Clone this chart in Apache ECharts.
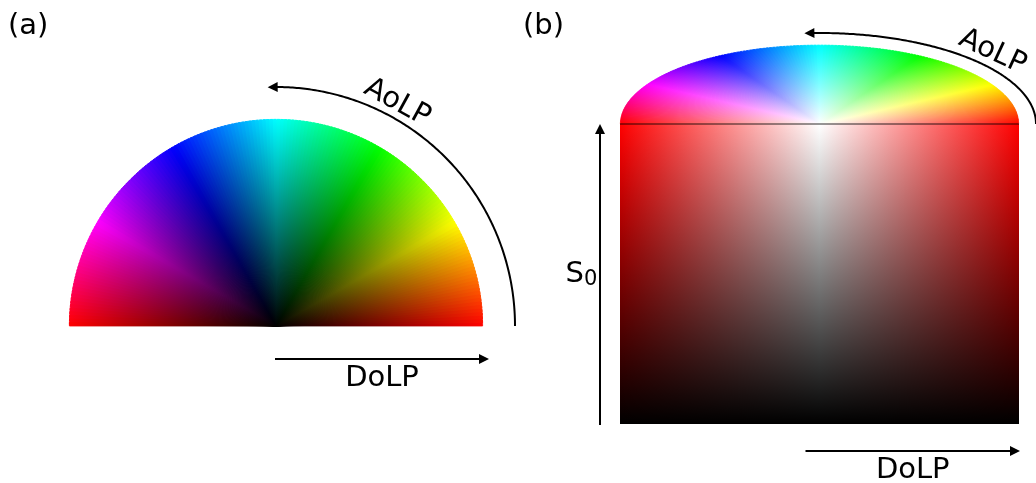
<!DOCTYPE html>
<html><head><meta charset="utf-8">
<script src="https://cdn.jsdelivr.net/npm/echarts@6/dist/echarts.min.js"></script>
<style>html,body{margin:0;padding:0;background:#fff}#chart{width:1036px;height:483px}</style>
</head><body><div id="chart"></div>
<script>
// ---- data ----
const AOLP_STOPS = [0, 30, 60, 90, 120, 150, 180];          // AoLP (deg)
const HUE_COLORS = ['#ff0000', '#ffff00', '#00ff00', '#00ffff', '#0000ff', '#ff00ff', '#ff0000'];
const AOLP_STEP = 1;                                          // wedge width (deg)
const DOLP_RANGE = [0, 1];
const DOLP_SIGNED = [-1, 1];                                  // panel (b) horizontal
const S0_RANGE = [0, 1];
const S0_ROW_COLORS = ['#ff0000', '#ffffff', '#ff0000'];      // top row of panel (b) rect (DoLP -1,0,1)
const PANEL_LABELS = ['(a)', '(b)'];
const AXIS_NAMES = { aolp: 'AoLP', dolp: 'DoLP', s0: 'S', s0sub: '0' };

const wedges = [];
for (let a = AOLP_STOPS[0]; a < AOLP_STOPS[AOLP_STOPS.length - 1]; a += AOLP_STEP) {
  wedges.push([DOLP_RANGE[1], a + AOLP_STEP / 2, a, a + AOLP_STEP]);
}

// ---- helpers ----
const FONT = '"DejaVu Sans", Verdana, sans-serif';
const D2R = Math.PI / 180;
const HEAD_LEN = 10, HEAD_HALF = 5, LW = 2;

function arrowEls(pts, tip) {
  const last = pts[pts.length - 1];
  let ux = tip[0] - last[0], uy = tip[1] - last[1];
  const n = Math.hypot(ux, uy) || 1; ux /= n; uy /= n;
  const bx = tip[0] - ux * HEAD_LEN, by = tip[1] - uy * HEAD_LEN;
  const px = -uy * HEAD_HALF, py = ux * HEAD_HALF;
  return [
    { type: 'polyline', shape: { points: pts.concat([[bx + ux * 2, by + uy * 2]]) }, style: { stroke: '#000', lineWidth: LW, fill: null } },
    { type: 'polygon', shape: { points: [tip, [bx + px, by + py], [bx - px, by - py]] }, style: { fill: '#000' } }
  ];
}
function ellPt(cx, cy, a, b, deg) { return [cx + a * Math.cos(deg * D2R), cy - b * Math.sin(deg * D2R)]; }
function arcArrow(cx, cy, a, b, tipDeg) {
  const endDeg = tipDeg - (HEAD_LEN / Math.max(a, b)) / D2R * 1.0;
  const pts = [];
  for (let d = 0; d < endDeg; d += 0.5) pts.push(ellPt(cx, cy, a, b, d));
  pts.push(ellPt(cx, cy, a, b, endDeg));
  return arrowEls(pts, ellPt(cx, cy, a, b, tipDeg));
}
function straightArrow(x0, y0, x1, y1) {
  const L = Math.hypot(x1 - x0, y1 - y0);
  const ux = (x1 - x0) / L, uy = (y1 - y0) / L;
  return arrowEls([[x0, y0], [x1 - ux * HEAD_LEN, y1 - uy * HEAD_LEN]], [x1, y1]);
}
function txt(text, x, y, size, opts) {
  opts = opts || {};
  return { type: 'text', x: x, y: y, rotation: opts.rotation || 0,
    style: { text: text, fill: '#000', font: size + 'px ' + FONT, align: opts.align || 'center', verticalAlign: opts.va || 'middle' } };
}

function wheelRenderer(centerColor, squash) {
  return function (params, api) {
    const cs = params.coordSys;
    const a0 = api.value(2), a1 = Math.min(AOLP_STOPS[AOLP_STOPS.length - 1], api.value(3) + 0.6);
    const R = cs.r;
    const grad = { type: 'radial', x: cs.cx, y: cs.cy, r: R, global: true,
      colorStops: [{ offset: 0, color: centerColor }, { offset: 1, color: api.visual('color') }] };
    return {
      type: 'sector',
      originX: cs.cx, originY: cs.cy, scaleY: squash,
      shape: { cx: cs.cx, cy: cs.cy, r0: 0, r: R - 0.4, startAngle: -a1 * D2R, endAngle: -a0 * D2R, clockwise: true },
      style: { fill: grad, stroke: grad, lineWidth: 0.8 }
    };
  };
}

function rectRender(params, api) {
  const tl = api.coord([DOLP_SIGNED[0], S0_RANGE[1]]);
  const br = api.coord([DOLP_SIGNED[1], S0_RANGE[0]]);
  const shape = { x: tl[0], y: tl[1], width: br[0] - tl[0], height: br[1] - tl[1] };
  return { type: 'group', children: [
    { type: 'rect', shape: shape, style: { fill: { type: 'linear', x: 0, y: 0, x2: 1, y2: 0,
      colorStops: S0_ROW_COLORS.map((c, i) => ({ offset: i / (S0_ROW_COLORS.length - 1), color: c })) } } },
    { type: 'rect', shape: shape, style: { fill: { type: 'linear', x: 0, y: 0, x2: 0, y2: 1,
      colorStops: [{ offset: 0, color: 'rgba(0,0,0,0)' }, { offset: 1, color: 'rgba(0,0,0,1)' }] } } }
  ] };
}

function decoA(params, api) {
  const cs = params.coordSys, cx = cs.cx, cy = cs.cy, R = cs.r;
  const rArc = R + 32;
  let ch = [];
  ch = ch.concat(arcArrow(cx, cy, rArc, rArc, 92));
  const tDeg = 61.5, tR = R + 47;
  const tp = ellPt(cx, cy, tR, tR, tDeg);
  ch.push(txt(AXIS_NAMES.aolp, tp[0], tp[1], 29, { rotation: (tDeg - 90) * D2R }));
  const ay = cy + 33;
  const o = api.coord([0, 0]);
  ch = ch.concat(straightArrow(o[0] - 1, ay, cx + R + 6, ay));
  ch.push(txt(AXIS_NAMES.dolp, (o[0] + cx + R + 5) / 2, ay + 19, 29));
  return { type: 'group', children: ch };
}

function decoB(params, api) {
  const tl = api.coord([DOLP_SIGNED[0], S0_RANGE[1]]);
  const br = api.coord([DOLP_SIGNED[1], S0_RANGE[0]]);
  const c = api.coord([0, S0_RANGE[1]]);
  const halfW = (br[0] - tl[0]) / 2;
  let ch = [];
  // separator
  ch.push({ type: 'line', shape: { x1: tl[0], y1: tl[1], x2: br[0], y2: tl[1] }, style: { stroke: 'rgba(0,0,0,0.55)', lineWidth: 1.5 } });
  // AoLP elliptical arc
  ch = ch.concat(arcArrow(c[0], c[1], halfW + 17, 91, 94));
  ch.push(txt(AXIS_NAMES.aolp, c[0] + 173, c[1] - 72, 29, { rotation: -25 * D2R }));
  // S0 arrow
  const sx = tl[0] - 20;
  ch = ch.concat(straightArrow(sx, br[1] + 1, sx, tl[1]));
  const my = (tl[1] + br[1]) / 2;
  ch.push(txt(AXIS_NAMES.s0, sx - 16, my, 29, { align: 'right' }));
  ch.push(txt(AXIS_NAMES.s0sub, sx - 16, my + 6, 21, { align: 'left' }));
  // DoLP arrow
  const dy = br[1] + 27;
  ch = ch.concat(straightArrow(c[0] - 14, dy, br[0] + 1, dy));
  ch.push(txt(AXIS_NAMES.dolp, (c[0] - 14 + br[0] + 1) / 2, dy + 19, 29));
  return { type: 'group', children: ch };
}

const chart = echarts.init(document.getElementById('chart'), null, { renderer: 'canvas' });
const hiddenAngle = (i) => ({ polarIndex: i, type: 'value', min: 0, max: 360, startAngle: 0, clockwise: false, show: false });
const hiddenRadius = (i) => ({ polarIndex: i, type: 'value', min: DOLP_RANGE[0], max: DOLP_RANGE[1], show: false });

chart.setOption({
  animation: false,
  backgroundColor: '#fff',
  polar: [
    { center: [276, 326], radius: 207 },
    { center: [819.5, 124], radius: 199.5 }
  ],
  angleAxis: [hiddenAngle(0), hiddenAngle(1)],
  radiusAxis: [hiddenRadius(0), hiddenRadius(1)],
  grid: { left: 620, right: 17, top: 124, bottom: 59 },
  xAxis: { type: 'value', min: DOLP_SIGNED[0], max: DOLP_SIGNED[1], show: false },
  yAxis: { type: 'value', min: S0_RANGE[0], max: S0_RANGE[1], show: false },
  visualMap: {
    type: 'continuous', show: false, seriesIndex: [0, 1], dimension: 1,
    min: AOLP_STOPS[0], max: AOLP_STOPS[AOLP_STOPS.length - 1],
    inRange: { color: HUE_COLORS }
  },
  graphic: [
    txt(PANEL_LABELS[0], 8, 26, 29, { align: 'left' }),
    txt(PANEL_LABELS[1], 523, 26, 29, { align: 'left' })
  ],
  series: [
    { type: 'custom', coordinateSystem: 'polar', polarIndex: 0, data: wedges, renderItem: wheelRenderer('#000000', 1), silent: true },
    { type: 'custom', coordinateSystem: 'polar', polarIndex: 1, data: wedges, renderItem: wheelRenderer('#ffffff', 79 / 199.5), silent: true },
    { type: 'custom', coordinateSystem: 'cartesian2d', data: [[0, 0]], renderItem: rectRender, silent: true },
    { type: 'custom', coordinateSystem: 'polar', polarIndex: 0, data: [[0, 0]], renderItem: decoA, silent: true },
    { type: 'custom', coordinateSystem: 'cartesian2d', data: [[0, 0]], renderItem: decoB, silent: true }
  ]
});
</script></body></html>
